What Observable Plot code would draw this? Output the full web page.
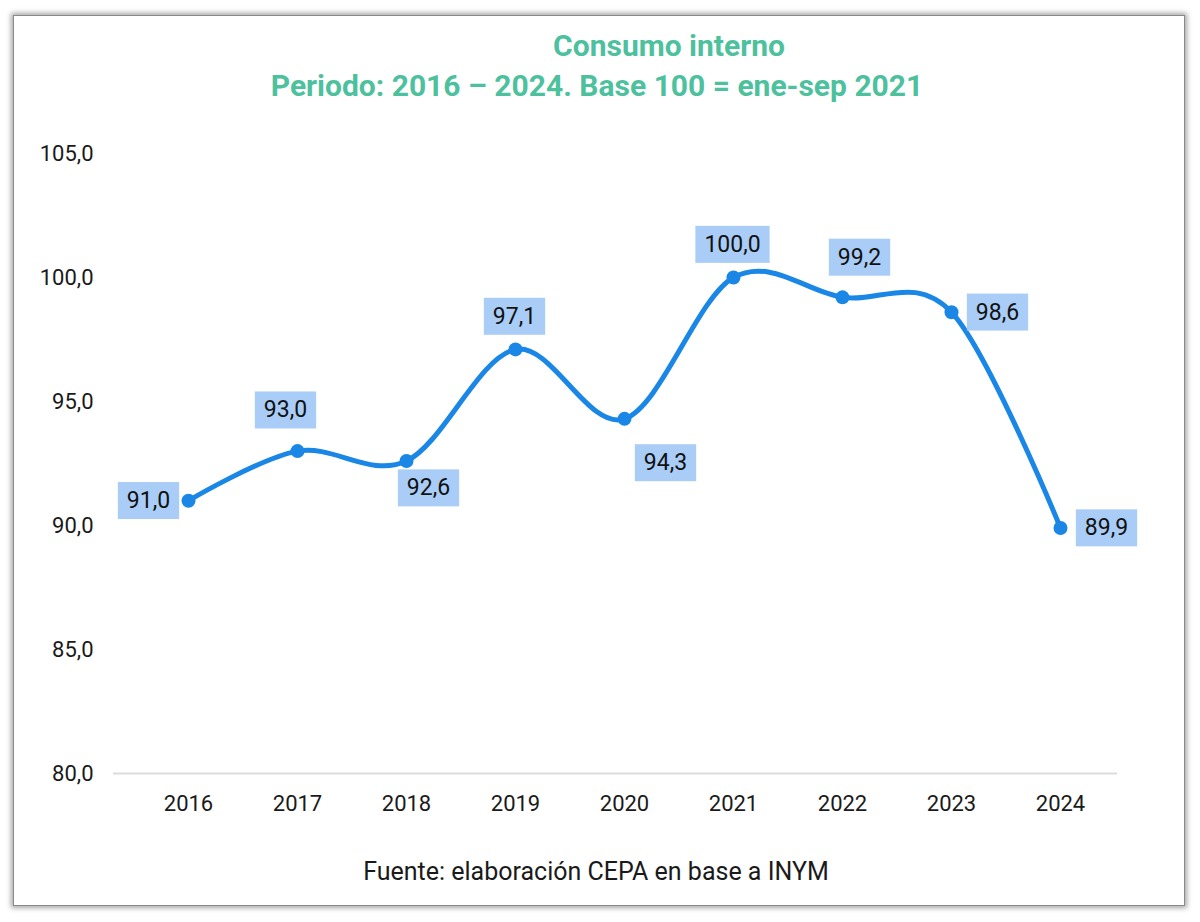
<!DOCTYPE html>
<html>
<head>
<meta charset="utf-8">
<script src="https://cdn.jsdelivr.net/npm/d3@7"></script>
<script src="https://cdn.jsdelivr.net/npm/@observablehq/plot@0.6"></script>
<style>
  html, body { margin: 0; padding: 0; background: #ffffff; width: 1200px; height: 922px; overflow: hidden; }
  #frame { position: absolute; left: 13px; top: 15px; width: 1170px; height: 889px; background: #fff;
           border: 1px solid #8a8a8a; box-shadow: 0 0 5px 2px rgba(0,0,0,0.35); }
  .title { position: absolute; transform: translateX(-50%); white-space: nowrap; font-family: Roboto, sans-serif;
           font-weight: 700; font-size: 30px; line-height: 34px; color: #4dc19e; }
  #caption { position: absolute; left: 596px; top: 857px; transform: translateX(-50%); white-space: nowrap;
             font-family: Roboto, sans-serif; font-size: 25px; line-height: 30px; color: #1a1a1a; }
  #chart { position: absolute; left: 0; top: 120px; }
</style>
</head>
<body>
<div id="frame"></div>
<div class="title" style="left:669px; top:29px;">Consumo interno</div>
<div class="title" style="left:597px; top:69px;">Periodo: 2016 – 2024. Base 100 = ene-sep 2021</div>
<div id="chart"></div>
<div id="caption">Fuente: elaboración CEPA en base a INYM</div>
<script>
const years = ["2016", "2017", "2018", "2019", "2020", "2021", "2022", "2023", "2024"];
const values = [91.0, 93.0, 92.6, 97.1, 94.3, 100.0, 99.2, 98.6, 89.9];
const placements = ["left", "above-left", "below", "above", "below-right", "above", "above-right", "right", "right"];
const yTicks = [80, 85, 90, 95, 100, 105];

const data = years.map((year, i) => ({year, value: values[i], place: placements[i]}));
const fmt = d => d.toFixed(1).replace(".", ",");

const offsets = {
  "left":        {dx: -40, dy: 0},
  "above-left":  {dx: -12, dy: -41},
  "above":       {dx: -1, dy: -33},
  "above-right": {dx: 17, dy: -40},
  "below":       {dx: 22, dy: 27},
  "below-right": {dx: 41, dy: 44},
  "right":       {dx: 46, dy: 0}
};

const labelMarks = Object.entries(offsets).map(([place, o]) =>
  Plot.text(data.filter(d => d.place === place), {
    x: "year", y: "value", text: d => fmt(d.value),
    dx: o.dx, dy: o.dy, fill: "#111", fontSize: 23, className: "lbl"
  })
);

const chart = Plot.plot({
  width: 1200,
  height: 710,
  marginLeft: 113,
  marginRight: 83,
  marginTop: 33,
  marginBottom: 57,
  style: {fontFamily: "Roboto, sans-serif", fontSize: "22px", color: "#1a1a1a", background: "transparent", overflow: "visible"},
  x: {type: "point", domain: years, range: [185, 1062], padding: 0, label: null, tickSize: 0, tickPadding: 22},
  y: {domain: [80, 105], ticks: yTicks, tickFormat: fmt, label: null, tickSize: 0, tickPadding: 20},
  marks: [
    Plot.ruleY([80], {stroke: "#dcdcdc", strokeWidth: 2}),
    Plot.line(data, {x: "year", y: "value", curve: "cardinal", stroke: "#1a87e6", strokeWidth: 5}),
    Plot.dot(data, {x: "year", y: "value", r: 7, fill: "#1a87e6"}),
    ...labelMarks
  ]
});

document.getElementById("chart").appendChild(chart);

// background boxes behind the data labels
chart.querySelectorAll(".lbl text").forEach(t => {
  const b = t.getBBox();
  const r = document.createElementNS("http://www.w3.org/2000/svg", "rect");
  const padX = 9, boxH = 37;
  const cy = b.y + b.height / 2;
  r.setAttribute("x", b.x - padX);
  r.setAttribute("y", cy - boxH / 2);
  r.setAttribute("width", b.width + 2 * padX);
  r.setAttribute("height", boxH);
  r.setAttribute("fill", "#a9cdf7");
  const tr = t.getAttribute("transform");
  if (tr) r.setAttribute("transform", tr);
  t.parentNode.insertBefore(r, t);
});
</script>
</body>
</html>
